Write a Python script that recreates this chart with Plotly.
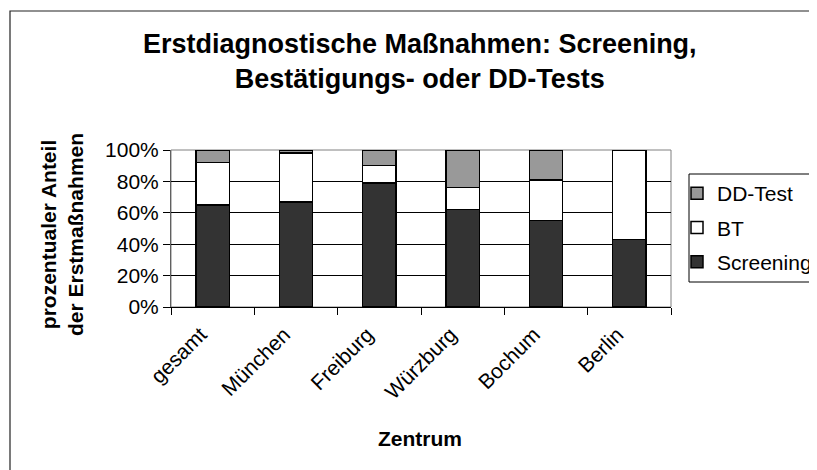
import plotly.graph_objects as go

categories = ["gesamt", "München", "Freiburg", "Würzburg", "Bochum", "Berlin"]
screening = [65, 67, 79, 62, 55, 43]
bt = [27, 31, 11, 14, 26, 57]
dd_test = [8, 2, 10, 24, 19, 0]
y_ticks = [0, 20, 40, 60, 80, 100]
y_tick_labels = ["0%", "20%", "40%", "60%", "80%", "100%"]

FONT = "Liberation Sans, Arial, sans-serif"
OFF = 8  # page body margin
W, H = 817 - OFF, 470 - OFF
L, R, T, B = 171 - OFF, 146, 150 - OFF, 163
PW, PH = W - L - R, H - T - B

def px(x):
    return (x - OFF - L) / PW

def py(y):
    return (H - B - (y - OFF)) / PH

fig = go.Figure()
line = dict(color="black", width=1.5)
fig.add_trace(go.Bar(name="Screening", x=categories, y=screening, legendgroup="s", legendrank=3,
                     marker=dict(color="#333333", line=line)))
fig.add_trace(go.Bar(name="BT", x=categories, y=bt, legendgroup="b", legendrank=2,
                     marker=dict(color="#ffffff", line=line)))
fig.add_trace(go.Bar(name="DD-Test", x=categories, y=dd_test, legendgroup="d", legendrank=1,
                     marker=dict(color="#999999", line=line)))

fig.update_layout(
    width=W, height=H,
    margin=dict(l=L, r=R, t=T, b=B, autoexpand=False),
    barmode="stack", bargap=0.6,
    paper_bgcolor="white", plot_bgcolor="white",
    font=dict(family=FONT, size=21, color="black"),
    showlegend=True,
    legend=dict(x=px(677), y=py(173), xanchor="left", yanchor="top",
                borderwidth=0, bgcolor="rgba(0,0,0,0)",
                traceorder="grouped", tracegroupgap=4,
                font=dict(size=21, family=FONT)),
    xaxis=dict(tickangle=-45, showline=True, linecolor="black", linewidth=1,
               ticks="outside", ticklen=7, tickcolor="black", tickson="boundaries",
               ticklabelshift=-12, ticklabelstandoff=6,
               showgrid=False, automargin=False, tickfont=dict(size=21)),
    yaxis=dict(range=[0, 100], tickvals=y_ticks, ticktext=y_tick_labels,
               showline=True, linecolor="#606060", linewidth=1,
               ticks="outside", ticklen=7, tickcolor="black",
               showgrid=True, gridcolor="black", gridwidth=1,
               zeroline=False, automargin=False, tickfont=dict(size=21)),
    shapes=[
        dict(type="rect", xref="paper", yref="paper", x0=0, y0=0, x1=1, y1=1,
             line=dict(color="#808080", width=1), layer="between"),
        dict(type="rect", xref="paper", yref="paper",
             x0=px(10), y0=py(490), x1=px(840), y1=py(11),
             line=dict(color="#222222", width=1.2), layer="below"),
        dict(type="rect", xref="paper", yref="paper",
             x0=px(689), y0=py(282), x1=px(840), y1=py(174),
             line=dict(color="black", width=1), layer="below"),
    ],
    annotations=[
        dict(text="<b>Erstdiagnostische Maßnahmen: Screening,<br>Bestätigungs- oder DD-Tests</b>",
             xref="paper", yref="paper", x=px(420), y=py(62), xanchor="center", yanchor="middle",
             showarrow=False, font=dict(size=27, family=FONT)),
        dict(text="<b>prozentualer Anteil<br>der Erstmaßnahmen</b>",
             xref="paper", yref="paper", x=px(62), y=py(235), xanchor="center", yanchor="middle",
             textangle=-90, showarrow=False, font=dict(size=21, family=FONT)),
        dict(text="<b>Zentrum</b>",
             xref="paper", yref="paper", x=px(420), y=py(438), xanchor="center", yanchor="middle",
             showarrow=False, font=dict(size=21, family=FONT)),
    ],
)

fig.write_html("out.html")
